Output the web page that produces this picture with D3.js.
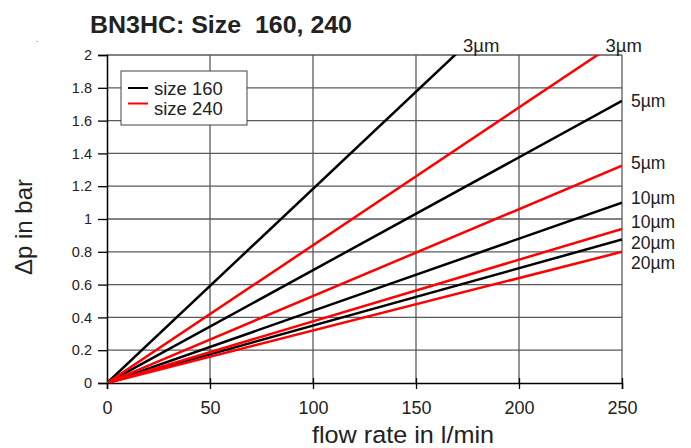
<!DOCTYPE html>
<html>
<head>
<meta charset="utf-8">
<script src="https://cdn.jsdelivr.net/npm/d3@7"></script>
<style>
  html, body { margin: 0; padding: 0; background: #fff; }
  svg { display: block; }
  text { font-family: "Liberation Sans", Arial, sans-serif; fill: #222; }
</style>
</head>
<body>
<svg id="chart" width="691" height="448"></svg>
<script>
// ---- data ----
const flowRates = [0, 250];                       // l/min (lines are straight from origin)
const grades = ["3µm", "5µm", "10µm", "20µm"];
const size160 = [[0, 2.96], [0, 1.72], [0, 1.10], [0, 0.875]];   // Δp (bar) at flowRates
const size240 = [[0, 2.10], [0, 1.325], [0, 0.94], [0, 0.80]];
const xTicks = [0, 50, 100, 150, 200, 250];
const yTicks = [0, 0.2, 0.4, 0.6, 0.8, 1, 1.2, 1.4, 1.6, 1.8, 2];
const legendLabels = ["size 160", "size 240"];
const colors = ["#000000", "#ff0000"];

// ---- layout ----
const svg = d3.select("#chart");
const x = d3.scaleLinear().domain([0, 250]).range([107, 622]);
const y = d3.scaleLinear().domain([0, 2]).range([383, 55]);

// grid
const grid = svg.append("g");
grid.selectAll("line.v").data(xTicks.slice(1)).join("line")
  .attr("x1", d => x(d)).attr("x2", d => x(d))
  .attr("y1", y(0)).attr("y2", y(2))
  .attr("stroke", "#5a5a5a").attr("stroke-width", 1.3);
grid.selectAll("line.h").data(yTicks.slice(1)).join("line")
  .attr("x1", x(0)).attr("x2", x(250))
  .attr("y1", d => y(d)).attr("y2", d => y(d))
  .attr("stroke", "#5a5a5a").attr("stroke-width", 1.3);

// axes
const yAxis = svg.append("g").attr("transform", `translate(${x(0)},0)`)
  .call(d3.axisLeft(y).tickValues(yTicks).tickSize(9).tickPadding(6)
    .tickFormat(d => String(+d.toFixed(1))));
yAxis.select(".domain").attr("stroke", "#000").attr("stroke-width", 1.5);
yAxis.selectAll(".tick line").attr("stroke", "#000").attr("stroke-width", 1.3).attr("x2", -9).attr("x1", 1);
yAxis.selectAll(".tick text").attr("font-size", 14.5).attr("font-family", "Liberation Sans, Arial, sans-serif").attr("fill", "#222");

const xAxis = svg.append("g").attr("transform", `translate(0,${y(0)})`)
  .call(d3.axisBottom(x).tickValues(xTicks).tickSize(6).tickPadding(12));
xAxis.select(".domain").attr("stroke", "#000").attr("stroke-width", 1.5);
xAxis.selectAll(".tick line").attr("stroke", "#000").attr("stroke-width", 1.3).attr("y1", -5).attr("y2", 6);
xAxis.selectAll(".tick text").attr("font-size", 18).attr("font-family", "Liberation Sans, Arial, sans-serif").attr("fill", "#222");

// clip
svg.append("clipPath").attr("id", "plotclip").append("rect")
  .attr("x", x(0)).attr("y", y(2)).attr("width", x(250) - x(0)).attr("height", y(0) - y(2));

const line = d3.line().x((d, i) => x(flowRates[i])).y(d => y(d));
const lines = svg.append("g").attr("clip-path", "url(#plotclip)");
[size160, size240].forEach((set, si) => {
  lines.selectAll(null).data(set).join("path")
    .attr("d", d => line(d)).attr("fill", "none")
    .attr("stroke", colors[si]).attr("stroke-width", 2.5);
});

// curve labels
const labels = svg.append("g");
const rightLabelDy = [[null, 0, -5, 3], [null, -3, -7, 11]];
[size160, size240].forEach((set, si) => {
  set.forEach((vals, gi) => {
    const v = vals[1];
    if (v > 2) {
      const q = 2 / v * 250; // flow where line leaves the top
      labels.append("text").attr("font-size", 18.5).attr("x", x(q) + 8).attr("y", y(2) - 3.5).text(grades[gi]);
    } else {
      labels.append("text").attr("font-size", 17.5).attr("x", 631).attr("y", y(v) + rightLabelDy[si][gi] + 6.2).text(grades[gi]);
    }
  });
});

// legend
const lg = svg.append("g");
lg.append("rect").attr("x", 121).attr("y", 71).attr("width", 126).attr("height", 54)
  .attr("fill", "#fff").attr("stroke", "#444").attr("stroke-width", 1);
legendLabels.forEach((t, i) => {
  lg.append("line").attr("x1", 128).attr("x2", 148)
    .attr("y1", 88 + i * 15.5).attr("y2", 88 + i * 15.5)
    .attr("stroke", colors[i]).attr("stroke-width", 2);
  lg.append("text").attr("x", 154).attr("y", 95 + i * 20).attr("font-size", 18.5).text(t);
});

// titles
svg.append("text").attr("x", 90).attr("y", 33).attr("font-size", 24).attr("font-weight", "bold")
  .attr("textLength", 262).attr("lengthAdjust", "spacingAndGlyphs")
  .text("BN3HC: Size  160, 240").style("white-space", "pre");
svg.append("text").attr("x", 403).attr("y", 443).attr("text-anchor", "middle").attr("font-size", 24.5)
  .attr("textLength", 182).attr("lengthAdjust", "spacingAndGlyphs")
  .text("flow rate in l/min");
svg.append("text").attr("transform", "translate(32,227) rotate(-90)").attr("text-anchor", "middle")
  .attr("font-size", 24).text("Δp in bar");
svg.append("text").attr("x", 36).attr("y", 42).attr("font-size", 8).attr("fill", "#555").text(".");
</script>
</body>
</html>
